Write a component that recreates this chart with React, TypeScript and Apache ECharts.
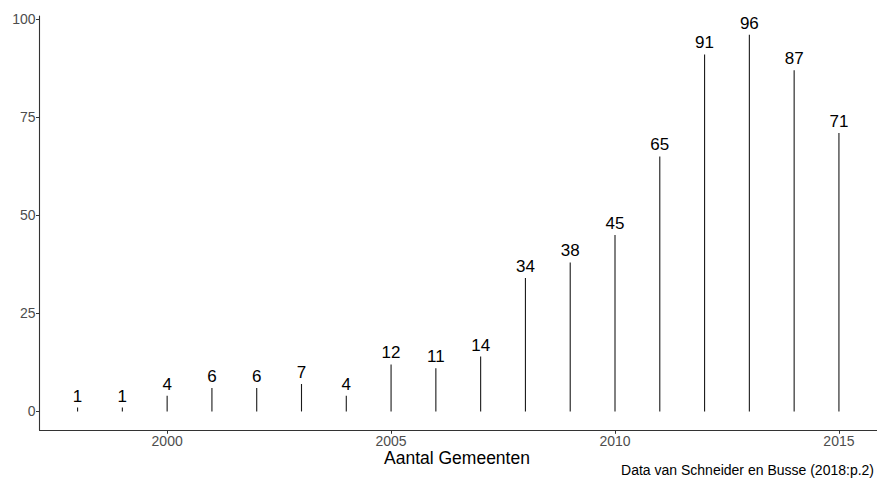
import React, { useEffect, useRef } from "react";
import * as echarts from "echarts";

const years = [1998, 1999, 2000, 2001, 2002, 2003, 2004, 2005, 2006, 2007, 2008, 2009, 2010, 2011, 2012, 2013, 2014, 2015];
const counts = [1, 1, 4, 6, 6, 7, 4, 12, 11, 14, 34, 38, 45, 65, 91, 96, 87, 71];
const xTicks = [2000, 2005, 2010, 2015];
const yTicks = [0, 25, 50, 75, 100];

const FONT = "'Liberation Sans', Arial, Helvetica, sans-serif";

export default function App() {
  const ref = useRef<HTMLDivElement>(null);
  useEffect(() => {
    if (!ref.current) return;
    const chart = echarts.init(ref.current, null, { renderer: "svg" });
    const data = years.map((y, i) => [y, counts[i]]);
    chart.setOption({
      animation: false,
      backgroundColor: "#ffffff",
      grid: { left: 39.5, right: 0, top: 16, bottom: 52.7, containLabel: false },
      xAxis: {
        type: "value",
        min: 1997.15,
        max: 2015.85,
        axisLine: { show: true, onZero: false, lineStyle: { color: "#333333", width: 1.1 } },
        axisTick: { show: true, length: 3.5, customValues: xTicks, lineStyle: { color: "#333333", width: 1 } },
        axisLabel: {
          customValues: xTicks,
          color: "#4d4d4d",
          fontSize: 14,
          fontFamily: FONT,
          margin: 4,
          formatter: (v: number) => String(Math.round(v)),
        },
        splitLine: { show: false },
      },
      yAxis: {
        type: "value",
        min: -4.8,
        max: 100.8,
        axisLine: { show: true, onZero: false, lineStyle: { color: "#333333", width: 1.1 } },
        axisTick: { show: true, length: 3.5, customValues: yTicks, lineStyle: { color: "#333333", width: 1 } },
        axisLabel: {
          customValues: yTicks,
          color: "#4d4d4d",
          fontSize: 14,
          fontFamily: FONT,
          margin: 4,
          formatter: (v: number) => String(Math.round(v)),
        },
        splitLine: { show: false },
      },
      series: [
        {
          type: "custom",
          data,
          renderItem: (params: any, api: any) => {
            const x = api.value(0);
            const v = api.value(1);
            const p0 = api.coord([x, 0]);
            const p1 = api.coord([x, v]);
            return {
              type: "group",
              children: [
                {
                  type: "line",
                  shape: { x1: p0[0], y1: p0[1], x2: p1[0], y2: p1[1] },
                  style: { stroke: "#1a1a1a", lineWidth: 1.1 },
                },
                {
                  type: "text",
                  x: p1[0],
                  y: p1[1] - 3,
                  style: {
                    text: String(v),
                    fill: "#000000",
                    fontSize: 17,
                    fontFamily: FONT,
                    align: "center",
                    verticalAlign: "bottom",
                  },
                },
              ],
            };
          },
        },
      ],
      graphic: [
        {
          type: "text",
          left: 458 - 74,
          top: 449,
          style: { text: "Aantal Gemeenten", fill: "#000000", fontSize: 17.5, fontFamily: FONT },
        },
        {
          type: "text",
          right: 3,
          top: 463,
          style: { text: "Data van Schneider en Busse (2018:p.2)", fill: "#000000", fontSize: 14, fontFamily: FONT },
        },
      ],
    });
    return () => chart.dispose();
  }, []);
  return <div ref={ref} style={{ width: 877, height: 483, position: "absolute", left: 0, top: 0 }} />;
}
